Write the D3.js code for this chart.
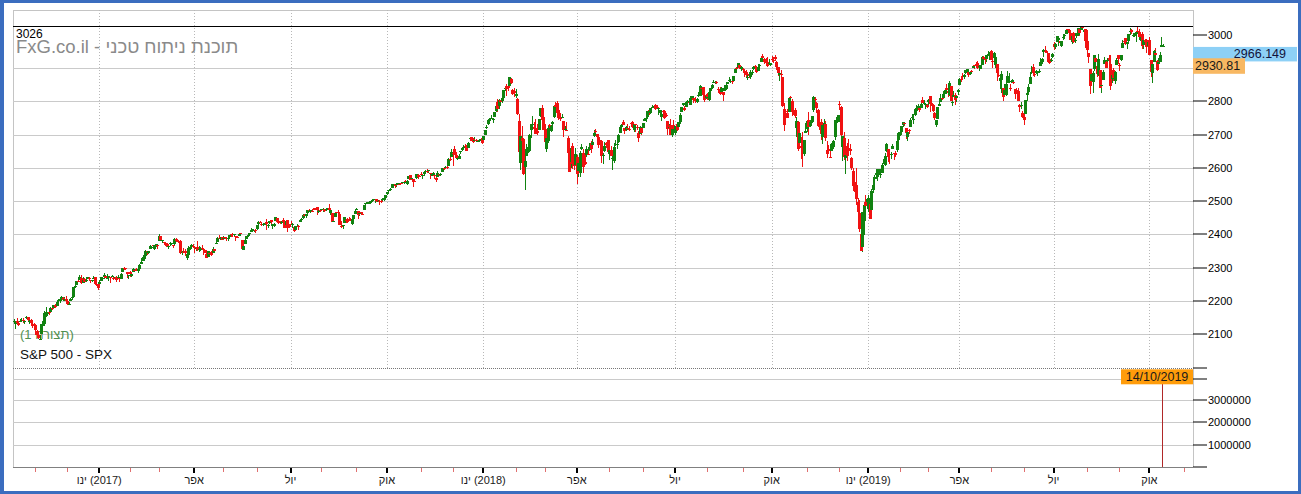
<!DOCTYPE html>
<html><head><meta charset="utf-8"><title>S&P 500 - SPX</title>
<script src="https://cdnjs.cloudflare.com/ajax/libs/d3/7.8.5/d3.min.js"></script>
<style>
html,body{margin:0;padding:0;background:#fff;overflow:hidden}
svg{display:block}
text{font-family:"Liberation Sans","DejaVu Sans",Arial,sans-serif}
</style></head><body>
<svg id="chart" width="1301" height="494"></svg>
<script>
// ===== DATA: S&P 500 daily candles, 12 Oct 2016 .. 14 Oct 2019 (one line per month) =====
const openV = [
2137,2130,2139,2133,2138,2140,2143,2139,2148,2151,2137,2143,2132,2130,
2128,2110,2098,2084,2100,2131,2132,2166,2162,2166,2168,2178,2178,2187,2186,2202,2199,2207,2210,2201,2205,
2200,2191,2200,2208,2211,2241,2249,2259,2263,2269,2253,2266,2260,2267,2270,2263,2260,2266,2271,2250,2252,
2251,2261,2268,2271,2274,2268,2268,2272,2273,2270,2269,2272,2269,2268,2267,2288,2299,2299,2286,2274,
2286,2276,2288,2294,2295,2290,2296,2312,2321,2327,2335,2349,2343,2355,2362,2367,2355,2366,2367,
2380,2395,2381,2376,2374,2371,2364,2372,2371,2368,2370,2387,2384,2379,2379,2343,2347,2350,2329,2339,2357,2361,2366,
2362,2355,2363,2353,2355,2358,2356,2353,2342,2333,2343,2347,2343,2355,2370,2378,2388,2388,2393,
2387,2392,2389,2389,2392,2400,2402,2397,2395,2393,2394,2405,2383,2354,2371,2387,2397,2401,2409,2414,2412,2415,
2416,2432,2437,2433,2432,2433,2437,2427,2435,2443,2425,2427,2442,2450,2440,2437,2435,2445,2436,2428,2443,2429,
2431,2430,2423,2414,2425,2427,2438,2444,2449,2460,2455,2464,2475,2467,2472,2478,2479,2482,2469,2475,
2474,2477,2476,2476,2478,2479,2466,2466,2440,2454,2468,2469,2462,2427,2426,2435,2445,2447,2444,2447,2431,2447,2463,
2474,2470,2464,2468,2462,2475,2491,2493,2494,2495,2502,2506,2507,2507,2498,2500,2500,2504,2504,2511,
2521,2530,2534,2540,2547,2551,2550,2551,2553,2556,2555,2557,2562,2553,2567,2579,2568,2566,2561,2570,2578,2577,
2583,2579,2582,2587,2592,2590,2586,2581,2577,2580,2569,2572,2582,2580,2589,2600,2600,2603,2605,2628,2634,
2645,2657,2639,2627,2628,2647,2653,2662,2667,2666,2661,2686,2692,2688,2683,2684,2680,2682,2686,2690,
2684,2698,2719,2732,2742,2751,2746,2752,2771,2799,2785,2803,2802,2810,2836,2846,2847,2847,2867,2833,2832,
2817,2808,2741,2615,2690,2686,2602,2636,2647,2652,2713,2728,2724,2721,2711,2715,2757,2780,2754,
2716,2658,2681,2730,2711,2733,2752,2790,2795,2774,2754,2750,2741,2716,2715,2691,2646,2619,2667,2612,2610,
2634,2592,2584,2657,2645,2618,2638,2643,2653,2675,2670,2697,2711,2701,2692,2676,2681,2635,2651,2675,2683,
2643,2654,2628,2622,2670,2670,2678,2706,2723,2738,2719,2713,2721,2718,2735,2738,2714,2731,2724,2705,2703,2720,
2719,2742,2748,2754,2775,2765,2780,2785,2788,2784,2777,2766,2753,2770,2770,2760,2742,2722,2729,2699,2728,
2705,2733,2724,2738,2769,2789,2780,2783,2797,2799,2789,2811,2809,2805,2799,2819,2817,2840,2842,2819,2809,
2822,2803,2830,2840,2856,2857,2858,2838,2835,2827,2827,2831,2838,2853,2861,2861,2861,2862,2884,2901,2900,2909,2898,
2898,2892,2889,2869,2882,2872,2888,2897,2906,2903,2891,2906,2919,2937,2926,2922,2917,2911,2910,
2926,2924,2932,2919,2902,2878,2883,2873,2776,2770,2764,2768,2812,2802,2775,2774,2721,2737,2675,2667,2682,2641,2705,
2717,2745,2727,2738,2775,2808,2795,2773,2731,2737,2693,2718,2731,2655,2658,2634,2650,2663,2692,2737,2738,
2791,2783,2663,2691,2630,2665,2659,2658,2629,2591,2559,2548,2497,2466,2401,2363,2442,2498,2499,
2477,2491,2475,2535,2568,2580,2574,2589,2580,2585,2614,2609,2651,2658,2643,2638,2657,2645,2644,2653,2685,
2703,2707,2728,2736,2720,2693,2713,2722,2750,2744,2760,2770,2780,2781,2781,2805,2793,2788,2789,
2798,2815,2795,2790,2766,2730,2747,2787,2799,2810,2811,2822,2841,2832,2819,2845,2797,2813,2820,2810,2828,
2848,2868,2876,2873,2884,2888,2887,2881,2892,2901,2908,2912,2916,2904,2898,2910,2934,2928,2926,2941,2937,
2952,2922,2929,2909,2913,2880,2860,2863,2840,2820,2820,2855,2858,2841,2855,2857,2836,2833,2830,2790,2786,2766,
2752,2763,2819,2829,2853,2886,2904,2882,2886,2886,2889,2907,2918,2949,2952,2952,2946,2926,2920,2933,
2971,2964,2979,2984,2980,2966,2990,2999,3003,3018,3013,3006,2978,3005,2982,2995,2999,3016,3013,3024,3007,3017,
2981,2944,2898,2861,2858,2897,2930,2907,2880,2894,2847,2865,2913,2919,2923,2931,2911,2866,2893,2862,2910,2938,
2910,2924,2960,2980,2989,2971,2981,3009,3013,2996,2996,3002,3010,3009,2984,3003,2969,2985,2985,2967,
2983,2924,2885,2918,2945,2921,2911,2918,2963,2966
];
const highV = [
2145,2139,2149,2135,2145,2148,2148,2143,2154,2152,2146,2147,2140,2134,
2131,2112,2102,2099,2132,2146,2170,2182,2166,2172,2182,2180,2189,2190,2199,2205,2205,2214,2212,2211,2214,
2203,2197,2210,2213,2242,2252,2260,2265,2277,2277,2273,2268,2267,2272,2271,2264,2264,2274,2272,2254,2253,
2264,2273,2271,2283,2275,2280,2275,2273,2279,2272,2272,2274,2277,2272,2284,2299,2301,2300,2287,2279,
2290,2284,2298,2296,2299,2296,2312,2319,2331,2338,2352,2351,2351,2367,2365,2368,2367,2371,2368,
2401,2395,2384,2378,2376,2374,2369,2377,2375,2368,2390,2388,2385,2379,2382,2351,2358,2357,2345,2364,2363,2371,2370,
2366,2361,2379,2364,2363,2367,2356,2354,2348,2349,2345,2350,2362,2356,2377,2392,2398,2392,2393,
2394,2393,2390,2392,2399,2401,2404,2400,2396,2394,2404,2406,2384,2375,2390,2395,2400,2405,2419,2416,2415,2418,
2430,2440,2440,2436,2436,2439,2446,2431,2441,2444,2433,2435,2454,2451,2442,2441,2441,2450,2441,2442,2443,2432,
2440,2435,2424,2427,2433,2430,2446,2449,2463,2463,2461,2474,2477,2473,2473,2481,2481,2484,2473,2477,
2478,2480,2477,2481,2481,2491,2475,2466,2448,2468,2469,2474,2465,2440,2430,2454,2448,2450,2454,2449,2450,2460,2475,
2480,2471,2469,2469,2467,2489,2496,2498,2498,2500,2508,2507,2508,2507,2504,2503,2503,2511,2510,2520,
2529,2535,2540,2552,2550,2552,2555,2555,2555,2558,2558,2560,2564,2563,2575,2579,2572,2568,2568,2582,2581,2579,
2588,2583,2588,2593,2598,2595,2586,2583,2587,2581,2572,2591,2583,2584,2601,2600,2605,2606,2629,2635,2657,
2650,2665,2648,2634,2641,2652,2660,2669,2671,2669,2679,2694,2694,2691,2693,2686,2683,2686,2688,2692,
2696,2715,2729,2743,2749,2759,2751,2768,2787,2807,2807,2805,2810,2833,2843,2853,2848,2873,2870,2838,2839,
2836,2809,2763,2701,2727,2686,2639,2673,2668,2702,2731,2755,2738,2747,2732,2747,2780,2789,2762,
2731,2694,2728,2732,2730,2741,2787,2797,2802,2777,2764,2762,2741,2725,2739,2695,2657,2662,2675,2632,2660,
2638,2619,2650,2673,2656,2653,2666,2662,2675,2680,2686,2713,2717,2703,2694,2683,2684,2645,2677,2678,2683,
2655,2665,2637,2674,2683,2677,2701,2726,2733,2743,2719,2726,2732,2725,2739,2742,2733,2732,2728,2710,2725,2722,
2736,2749,2752,2772,2779,2779,2790,2790,2792,2789,2783,2775,2764,2775,2774,2764,2742,2732,2746,2725,2743,
2727,2737,2738,2764,2784,2796,2785,2799,2805,2802,2815,2817,2810,2812,2809,2829,2849,2845,2843,2821,2819,
2825,2830,2841,2853,2863,2862,2862,2842,2843,2844,2827,2850,2855,2859,2873,2867,2868,2876,2898,2903,2916,2912,2907,
2900,2894,2893,2883,2884,2893,2894,2907,2908,2904,2911,2912,2935,2941,2930,2931,2932,2927,2916,
2937,2932,2940,2920,2903,2894,2894,2874,2795,2776,2776,2814,2817,2806,2797,2779,2754,2742,2723,2693,2707,2685,2736,
2741,2767,2744,2757,2815,2813,2797,2776,2755,2747,2735,2746,2742,2681,2670,2654,2675,2685,2744,2754,2760,
2800,2785,2696,2708,2641,2675,2686,2671,2634,2601,2573,2600,2510,2505,2410,2468,2489,2520,2510,
2520,2493,2538,2567,2580,2596,2597,2597,2589,2613,2626,2645,2675,2658,2654,2647,2673,2645,2650,2690,2708,
2716,2725,2738,2739,2720,2709,2718,2749,2762,2761,2776,2788,2791,2786,2794,2814,2803,2795,2793,
2808,2817,2798,2791,2768,2745,2784,2799,2821,2815,2831,2836,2852,2843,2860,2847,2809,2830,2825,2819,2837,
2869,2872,2885,2881,2893,2896,2888,2889,2893,2910,2909,2917,2922,2908,2910,2936,2936,2933,2940,2950,2948,
2954,2932,2948,2932,2913,2898,2875,2891,2841,2852,2858,2892,2885,2853,2868,2865,2836,2841,2841,2791,2799,2772,
2763,2804,2827,2853,2885,2905,2911,2888,2895,2890,2898,2931,2930,2958,2965,2954,2946,2932,2929,2944,
2978,2974,2996,2995,2981,2981,3002,3003,3014,3018,3017,3006,2998,3007,2991,3006,3020,3017,3027,3025,3017,3018,
3013,2945,2898,2885,2892,2939,2935,2907,2943,2894,2857,2894,2932,2924,2929,2939,2939,2879,2899,2891,2930,2940,
2915,2939,2985,2985,2989,2979,3001,3020,3017,3003,3006,3008,3022,3016,2999,3007,2990,2987,2988,2983,
2993,2924,2911,2953,2959,2925,2930,2948,2993,2973
];
const lowV = [
2133,2115,2132,2124,2136,2138,2133,2131,2146,2141,2132,2132,2120,2125,
2097,2096,2086,2084,2100,2124,2125,2152,2156,2157,2168,2172,2176,2180,2186,2196,2195,2207,2200,2199,2198,
2187,2188,2200,2202,2209,2238,2249,2257,2263,2250,2253,2257,2257,2266,2263,2253,2258,2266,2249,2244,2233,
2245,2261,2260,2266,2268,2266,2261,2255,2271,2262,2264,2258,2265,2257,2266,2288,2294,2292,2268,2267,
2272,2271,2288,2288,2290,2285,2296,2312,2321,2321,2335,2339,2340,2355,2358,2356,2352,2362,2356,
2380,2380,2375,2367,2366,2362,2355,2364,2368,2358,2364,2376,2378,2369,2341,2337,2343,2334,2322,2336,2353,2360,2362,
2344,2350,2349,2348,2350,2352,2337,2344,2328,2333,2334,2336,2343,2345,2370,2378,2386,2383,2383,
2384,2385,2380,2380,2390,2393,2393,2392,2381,2388,2394,2397,2357,2352,2371,2386,2391,2396,2409,2411,2409,2404,
2414,2427,2434,2427,2425,2428,2415,2419,2431,2429,2418,2424,2442,2437,2431,2432,2431,2436,2419,2428,2408,2421,
2428,2421,2408,2414,2424,2413,2438,2441,2447,2456,2450,2463,2467,2465,2467,2474,2475,2460,2464,2468,
2472,2467,2469,2470,2475,2472,2460,2438,2437,2454,2461,2460,2430,2420,2417,2435,2436,2436,2441,2440,2428,2445,2463,
2473,2447,2457,2460,2460,2475,2485,2492,2491,2493,2499,2503,2496,2497,2497,2489,2495,2497,2502,2510,
2520,2528,2532,2540,2541,2541,2544,2548,2548,2551,2552,2553,2559,2548,2567,2564,2566,2544,2557,2567,2568,2572,
2575,2567,2577,2585,2584,2586,2566,2575,2576,2567,2557,2572,2576,2577,2589,2594,2600,2598,2605,2621,2634,
2605,2639,2626,2624,2628,2641,2651,2659,2662,2651,2659,2686,2680,2676,2680,2680,2677,2679,2683,2673,
2683,2698,2716,2728,2738,2747,2736,2752,2769,2768,2777,2787,2796,2808,2831,2816,2830,2846,2851,2818,2813,
2809,2759,2638,2593,2681,2580,2533,2635,2645,2648,2690,2725,2713,2701,2698,2714,2753,2744,2713,
2659,2647,2675,2712,2708,2721,2751,2780,2759,2745,2742,2749,2694,2712,2711,2642,2588,2601,2596,2594,2610,
2553,2573,2574,2653,2586,2610,2634,2640,2651,2645,2665,2692,2704,2682,2660,2657,2615,2612,2647,2659,2648,
2625,2635,2594,2616,2667,2656,2675,2706,2718,2729,2702,2712,2713,2710,2726,2721,2707,2708,2714,2677,2703,2700,
2719,2740,2739,2748,2760,2763,2780,2780,2775,2776,2760,2757,2741,2764,2746,2752,2699,2715,2699,2692,2718,
2699,2711,2716,2733,2768,2786,2770,2783,2792,2793,2789,2806,2795,2796,2796,2812,2815,2835,2809,2799,2806,
2805,2800,2827,2836,2855,2852,2853,2825,2819,2827,2802,2831,2833,2851,2861,2856,2853,2862,2884,2894,2899,2896,2891,
2885,2874,2871,2865,2870,2868,2880,2895,2898,2886,2890,2899,2919,2926,2913,2913,2903,2909,2906,
2917,2915,2922,2893,2875,2862,2874,2784,2710,2730,2750,2768,2781,2755,2760,2750,2692,2652,2669,2628,2603,2635,2704,
2709,2700,2723,2735,2767,2794,2765,2722,2714,2685,2671,2713,2681,2631,2649,2631,2650,2656,2685,2727,2737,
2774,2697,2622,2623,2583,2620,2650,2638,2594,2531,2528,2489,2442,2409,2351,2347,2397,2473,2487,
2467,2447,2474,2525,2548,2568,2562,2582,2571,2585,2611,2606,2648,2617,2613,2627,2657,2624,2633,2648,2679,
2697,2700,2724,2727,2687,2682,2703,2722,2748,2733,2757,2768,2775,2767,2781,2794,2789,2776,2780,
2790,2768,2785,2768,2744,2722,2747,2786,2799,2804,2810,2821,2823,2812,2817,2800,2785,2812,2788,2799,2818,
2848,2859,2866,2867,2882,2881,2874,2879,2882,2899,2897,2901,2896,2892,2896,2909,2926,2913,2918,2940,2925,
2923,2900,2929,2900,2862,2874,2836,2826,2801,2820,2816,2855,2854,2831,2855,2851,2806,2821,2801,2767,2777,2750,
2729,2763,2801,2823,2853,2882,2876,2874,2882,2877,2886,2906,2911,2932,2947,2944,2916,2913,2918,2930,
2953,2958,2978,2966,2970,2963,2984,2988,3001,3011,3001,2984,2973,2976,2976,2989,2996,2996,3013,3014,3000,2959,
2946,2914,2822,2848,2825,2892,2901,2873,2877,2839,2825,2865,2913,2899,2917,2904,2834,2856,2861,2853,2910,2913,
2891,2921,2960,2972,2969,2958,2979,3000,3003,2992,2993,2979,3003,2985,2982,2957,2958,2963,2945,2967,
2939,2874,2856,2918,2935,2892,2907,2917,2963,2963
];
const closeV = [
2139,2133,2133,2127,2140,2144,2141,2141,2151,2143,2139,2133,2126,2126,
2112,2098,2089,2085,2132,2140,2163,2167,2164,2164,2180,2177,2187,2182,2198,2203,2205,2213,2202,2205,2199,
2191,2192,2205,2212,2241,2246,2260,2257,2272,2253,2262,2258,2263,2271,2265,2261,2264,2269,2250,2249,2239,
2258,2271,2269,2277,2269,2269,2275,2270,2275,2268,2272,2264,2271,2265,2280,2298,2297,2295,2281,2279,
2280,2281,2297,2293,2293,2295,2308,2316,2328,2338,2349,2347,2351,2365,2363,2364,2367,2370,2364,
2396,2382,2383,2375,2368,2363,2365,2373,2373,2365,2385,2381,2378,2373,2344,2348,2346,2344,2342,2359,2361,2368,2363,
2359,2360,2353,2357,2356,2357,2354,2345,2329,2349,2342,2338,2356,2349,2374,2389,2387,2389,2384,
2388,2391,2388,2390,2399,2399,2397,2400,2394,2391,2402,2401,2357,2366,2382,2394,2398,2404,2415,2416,2413,2412,
2430,2439,2436,2429,2433,2434,2432,2429,2440,2438,2432,2433,2453,2437,2436,2435,2438,2439,2419,2441,2420,2423,
2429,2433,2410,2425,2427,2426,2443,2448,2459,2459,2461,2474,2473,2473,2470,2477,2478,2475,2472,2470,
2476,2478,2472,2477,2481,2475,2474,2438,2441,2466,2465,2468,2430,2426,2428,2453,2444,2439,2443,2444,2446,2458,2472,
2477,2458,2466,2465,2461,2488,2496,2498,2496,2500,2504,2507,2508,2501,2502,2497,2497,2507,2510,2519,
2529,2535,2538,2552,2549,2545,2551,2555,2551,2553,2558,2559,2561,2562,2575,2565,2569,2557,2560,2581,2573,2575,
2579,2580,2588,2591,2591,2594,2585,2582,2585,2579,2565,2586,2579,2582,2599,2597,2602,2601,2627,2626,2648,
2642,2639,2630,2629,2637,2652,2660,2664,2663,2652,2676,2690,2681,2679,2685,2683,2681,2683,2688,2674,
2696,2713,2724,2743,2748,2751,2748,2768,2786,2776,2803,2798,2810,2833,2839,2838,2839,2873,2854,2822,2824,
2822,2762,2649,2695,2682,2581,2620,2656,2663,2699,2731,2732,2716,2701,2704,2747,2780,2744,2714,
2678,2691,2721,2728,2727,2739,2787,2783,2765,2749,2747,2752,2713,2717,2712,2644,2588,2659,2613,2605,2641,
2582,2614,2645,2663,2604,2613,2657,2642,2664,2656,2678,2706,2709,2693,2670,2670,2635,2639,2667,2670,2648,
2655,2636,2630,2663,2673,2672,2698,2723,2728,2730,2711,2722,2720,2713,2733,2724,2733,2728,2721,2690,2724,2705,
2735,2747,2749,2772,2770,2779,2782,2787,2776,2782,2780,2774,2763,2767,2750,2755,2717,2723,2700,2716,2718,
2727,2713,2737,2760,2784,2794,2774,2798,2801,2798,2810,2816,2804,2802,2807,2820,2846,2837,2819,2803,2816,
2813,2827,2840,2850,2858,2858,2854,2833,2822,2840,2818,2841,2850,2857,2863,2862,2857,2875,2897,2898,2914,2901,2902,
2897,2889,2878,2872,2877,2888,2889,2904,2905,2889,2904,2908,2931,2930,2919,2916,2906,2914,2914,
2925,2923,2926,2902,2886,2884,2880,2786,2728,2767,2751,2810,2809,2769,2768,2756,2741,2656,2706,2659,2641,2683,2712,
2740,2723,2738,2755,2814,2807,2781,2726,2722,2702,2730,2736,2691,2642,2650,2633,2673,2682,2744,2738,2760,
2790,2700,2696,2633,2638,2637,2651,2651,2600,2546,2546,2507,2467,2417,2351,2468,2489,2486,2507,
2510,2448,2532,2550,2574,2585,2597,2596,2583,2610,2616,2636,2671,2633,2639,2642,2665,2644,2640,2681,2704,
2707,2725,2738,2732,2706,2708,2710,2745,2753,2746,2776,2780,2785,2775,2793,2796,2794,2792,2784,
2804,2793,2790,2771,2749,2743,2783,2792,2811,2808,2822,2833,2833,2824,2855,2801,2798,2818,2805,2815,2834,
2867,2867,2873,2879,2893,2896,2878,2888,2888,2907,2906,2907,2900,2905,2908,2934,2927,2926,2940,2943,2946,
2924,2918,2946,2932,2884,2879,2871,2881,2812,2834,2851,2876,2860,2840,2864,2856,2822,2826,2802,2783,2789,2752,
2744,2803,2826,2843,2873,2887,2886,2880,2892,2887,2890,2918,2926,2954,2950,2945,2917,2914,2925,2942,
2964,2973,2996,2990,2976,2980,2993,3000,3014,3014,3004,2984,2995,2977,2985,3005,3020,3004,3026,3021,3013,2980,
2954,2932,2845,2882,2884,2938,2919,2883,2926,2841,2848,2889,2924,2901,2924,2923,2847,2878,2869,2888,2925,2926,
2906,2938,2976,2979,2978,2979,3001,3010,3007,2998,3006,3007,3007,2992,2992,2967,2985,2978,2962,2977,
2940,2888,2911,2952,2939,2893,2919,2938,2970,2966.149
];
// trading days per month on the time axis: Oct 2016 (from the 12th) .. Oct 2019 (full month)
const axisMonthDays = [14,21,21, 20,19,23,19,22,22,20,23,20,22,21,20, 21,19,21,21,22,21,21,23,19,23,21,19, 21,19,21,21,22,20,22,22,20,23];
const firstMonth = {year: 2016, month: 9};          // October 2016 (0-based month)
const quarterNames = ["ינו", "אפר", "יול", "אוק"];   // Jan, Apr, Jul, Oct
const priceTicks = [2100,2200,2300,2400,2500,2600,2700,2800,2900,3000];
const priceGrid  = [2100,2200,2300,2400,2500,2600,2700,2800,2900];
const volTicks   = [1000000,2000000,3000000];
const maxLine = 3026;
const refLevel = 2930.81;
const lastVolume = 3910000;
const lastDateLabel = "14/10/2019";
const titleText = "S&P 500 - SPX";
const configText = "(תצורה 1)";
const watermark = "FxG.co.il - תוכנת ניתוח טכני";

// ===== LAYOUT =====
const L = 13, R = 1193, T = 10, PB = 368.4, VT = 368.3, VB = 467;
const svg = d3.select("#chart");
svg.append("rect").attr("width",1301).attr("height",494).attr("fill","#3b6dbf");
svg.append("rect").attr("x",4).attr("y",3).attr("width",1294).attr("height",488).attr("fill","#fff");

const monthStart = [0];
axisMonthDays.forEach((d,i) => monthStart.push(monthStart[i] + d));
const months = monthStart.map((s,m) => {
  const t = firstMonth.month + m;
  return {idx: s, cal: t % 12, year: firstMonth.year + Math.floor(t/12), m};
});

// time axis: trading-day index -> px (anchored on year starts)
const x = d3.scaleLinear()
  .domain([0, monthStart[3], monthStart[15], monthStart[27], monthStart[36]])
  .range([13.8, 99.3, 483.3, 868.3, 1149.3]);
const y = d3.scaleLinear().domain([1998, 3074]).range([PB, T]);
const yv = d3.scaleLinear().domain([0, 4400000]).range([VB, VT]);
const crisp = v => Math.round(v) + 0.5;

// plot frame
const frame = svg.append("g").attr("stroke","#c4c4c4").attr("stroke-width",1);
frame.append("line").attr("x1",L).attr("x2",R+0.5).attr("y1",T+0.5).attr("y2",T+0.5);
frame.append("line").attr("x1",L+0.5).attr("x2",L+0.5).attr("y1",T).attr("y2",VB);
frame.append("line").attr("x1",R+0.5).attr("x2",R+0.5).attr("y1",T).attr("y2",VB);

// horizontal gridlines
svg.append("g").selectAll("line").data(priceGrid).join("line")
  .attr("x1",L).attr("x2",R).attr("y1",d=>crisp(y(d))).attr("y2",d=>crisp(y(d)))
  .attr("stroke","#cacaca");
svg.append("g").selectAll("line").data(volTicks.concat([lastVolume])).join("line")
  .attr("x1",L).attr("x2",R).attr("y1",d=>crisp(yv(d))).attr("y2",d=>crisp(yv(d)))
  .attr("stroke","#cacaca");

// vertical dotted gridlines at quarter starts
const quarters = months.filter(d => d.m > 0 && d.m <= 36 && d.cal % 3 === 0);
svg.append("g").selectAll("line").data(quarters).join("line")
  .attr("x1",d=>crisp(x(d.idx))).attr("x2",d=>crisp(x(d.idx)))
  .attr("y1",T).attr("y2",PB)
  .attr("stroke","#b8b8b8").attr("stroke-dasharray","1,2");

// texts behind candles
svg.append("text").attr("x",16).attr("y",52.5).attr("font-size",18.5).attr("fill","#8a8a8a").text(watermark);
svg.append("text").attr("x",20).attr("y",339).attr("font-size",13).attr("fill","#4f8f4f")
  .text("\u202B" + configText + "\u202C");
svg.append("text").attr("x",20).attr("y",359).attr("font-size",13.5).attr("fill","#111").text(titleText);

// candles
const idx = d3.range(closeV.length);
const up = "#118211", dn = "#f01212";
const cg = svg.append("g").attr("shape-rendering","crispEdges");
cg.selectAll(".wick").data(idx).join("rect").attr("class","wick")
  .attr("x", i => Math.round(x(i))).attr("width", 1)
  .attr("y", i => y(Math.max(highV[i], openV[i], closeV[i])))
  .attr("height", i => Math.max(1, y(Math.min(lowV[i], openV[i], closeV[i])) - y(Math.max(highV[i], openV[i], closeV[i]))))
  .attr("fill", i => closeV[i] >= openV[i] ? up : dn);
cg.selectAll(".body").data(idx).join("rect").attr("class","body")
  .attr("x", i => Math.round(x(i)) - 1).attr("width", 3)
  .attr("y", i => y(Math.max(openV[i], closeV[i])))
  .attr("height", i => Math.max(1, Math.abs(y(openV[i]) - y(closeV[i]))))
  .attr("fill", i => closeV[i] >= openV[i] ? up : dn);

// max line
svg.append("line").attr("x1",L).attr("x2",R).attr("y1",crisp(y(maxLine))).attr("y2",crisp(y(maxLine)))
  .attr("stroke","#000");
svg.append("text").attr("x",16).attr("y",37.5).attr("font-size",12).attr("fill","#000").text(d3.format("d")(maxLine));

// panel separator
svg.append("line").attr("x1",L).attr("x2",R).attr("y1",368.5).attr("y2",368.5)
  .attr("stroke","#777").attr("stroke-dasharray","1,1");

// volume bar of last day
const last = closeV.length - 1;
svg.append("line").attr("x1",Math.floor(x(last))+0.5).attr("x2",Math.floor(x(last))+0.5)
  .attr("y1",yv(lastVolume)).attr("y2",yv(0)).attr("stroke","#b02828");

// bottom axis
svg.append("line").attr("x1",L).attr("x2",R).attr("y1",VB+0.5).attr("y2",VB+0.5).attr("stroke","#808080");
const axisMonths = months.filter(d => d.m > 0);
svg.append("g").selectAll("rect").data(axisMonths).join("rect")
  .attr("x", d => d.cal % 3 === 0 ? Math.round(x(d.idx)) - 1 : Math.round(x(d.idx)))
  .attr("width", d => d.cal % 3 === 0 ? 2 : 1)
  .attr("y", VB + 1).attr("height", d => d.cal % 3 === 0 ? 5 : 4)
  .attr("fill", d => d.cal % 3 === 0 ? "#000" : "#e07070");
svg.append("g").selectAll("text").data(quarters).join("text")
  .attr("x", d => x(d.idx)).attr("y", 484).attr("text-anchor","middle")
  .attr("font-size",11).attr("fill","#1a1a1a")
  .text(d => quarterNames[d.cal/3] + (d.cal === 0 ? "\u200E (" + d.year + ")" : ""));

// right axis
const ra = svg.append("g");
ra.selectAll("line.p").data(priceTicks).join("line").attr("class","p")
  .attr("x1",R).attr("x2",R+14).attr("y1",d=>crisp(y(d))-0.5).attr("y2",d=>crisp(y(d))-0.5).attr("stroke","#000");
ra.selectAll("text.p").data(priceTicks).join("text").attr("class","p")
  .attr("x",R+15).attr("y",d=>y(d)).attr("dy","0.36em").attr("font-size",11).attr("fill","#000")
  .text(d=>d);
const volAll = [0].concat(volTicks, [lastVolume, yv.domain()[1]]);
ra.selectAll("line.v").data(volAll).join("line").attr("class","v")
  .attr("x1",R).attr("x2",R+14).attr("y1",d=>crisp(yv(d))-0.5).attr("y2",d=>crisp(yv(d))-0.5).attr("stroke","#000");
ra.selectAll("text.v").data(volTicks).join("text").attr("class","v")
  .attr("x",R+15).attr("y",d=>yv(d)).attr("dy","0.36em").attr("font-size",11).attr("fill","#000")
  .text(d=>d);

// last price label (blue) and reference label (orange)
const lastY = y(closeV[last]) + 1;
svg.append("rect").attr("x",R).attr("y",lastY).attr("width",104).attr("height",14.5).attr("fill","#8dd0f6");
svg.append("text").attr("x",1286).attr("y",lastY+11.5).attr("text-anchor","end").attr("font-size",12.5)
  .attr("fill","#12123a").text(d3.format(".3f")(closeV[last]));
const refY = y(refLevel) + 0.6;
svg.append("rect").attr("x",R).attr("y",refY).attr("width",52).attr("height",15.5).attr("fill","#f8b862");
svg.append("text").attr("x",R+2).attr("y",refY+12).attr("font-size",12.5).attr("fill","#1a1a1a")
  .text(d3.format(".2f")(refLevel));

// last date label
const dW = 72;
const dX = Math.min(x(last) - dW/2, R - dW);
svg.append("rect").attr("x",dX).attr("y",369.3).attr("width",dW).attr("height",15).attr("fill","#ff9c0a");
svg.append("text").attr("x",dX+dW/2).attr("y",381.3).attr("text-anchor","middle").attr("font-size",12.5)
  .attr("fill","#1a1a1a").text(lastDateLabel);
</script>
</body></html>
